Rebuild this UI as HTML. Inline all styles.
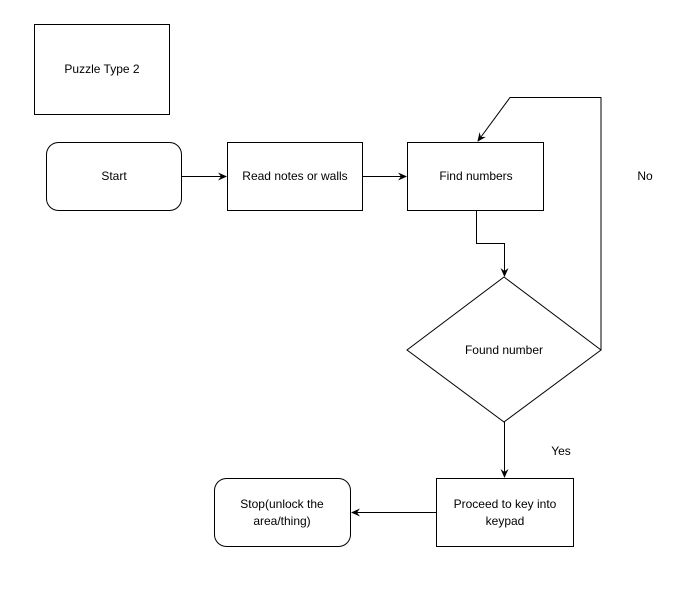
<!DOCTYPE html>
<html><head><style>
html,body{margin:0;padding:0;background:#fff;}
svg{display:block;}
text{font-family:"Liberation Sans",Arial,sans-serif;font-size:12px;fill:#000;}
</style></head><body>
<svg width="685" height="592" viewBox="0 0 685 592">
<defs><marker id="a" markerWidth="10" markerHeight="10" refX="8" refY="5" orient="auto" markerUnits="userSpaceOnUse"><path d="M0,1 L9,5 L0,9 L3,5 Z" fill="#000"/></marker></defs>
<g fill="#fff" stroke="#000" stroke-width="1">
<rect x="34.5" y="24.5" width="135" height="90"/>
<rect x="46.5" y="142.5" width="135" height="68" rx="12"/>
<rect x="227.5" y="142.5" width="135" height="68"/>
<rect x="407.5" y="142.5" width="136" height="68"/>
<polygon points="504,277 601,350 504,422 407,350"/>
<rect x="436.5" y="478.5" width="137" height="68"/>
<rect x="214.5" y="478.5" width="136" height="68" rx="12"/>
</g>
<g fill="none" stroke="#000" stroke-width="1" marker-end="url(#a)">
<path d="M181,176.5 H226"/>
<path d="M363,176.5 H406"/>
<path d="M476.5,211 V243.5 H504.5 V276"/>
<path d="M601,350 V97.5 H510 L478,141"/>
<path d="M504.5,422 V477"/>
<path d="M436,512.5 H352"/>
</g>
<g text-anchor="middle">
<text x="102" y="73">Puzzle Type 2</text>
<text x="114" y="180">Start</text>
<text x="295" y="180">Read notes or walls</text>
<text x="476" y="180">Find numbers</text>
<text x="645" y="180">No</text>
<text x="504" y="354">Found number</text>
<text x="561" y="455">Yes</text>
<text x="505" y="508">Proceed to key into</text>
<text x="505" y="525">keypad</text>
<text x="282" y="508">Stop(unlock the</text>
<text x="282" y="525">area/thing)</text>
</g>
</svg>
</body></html>
